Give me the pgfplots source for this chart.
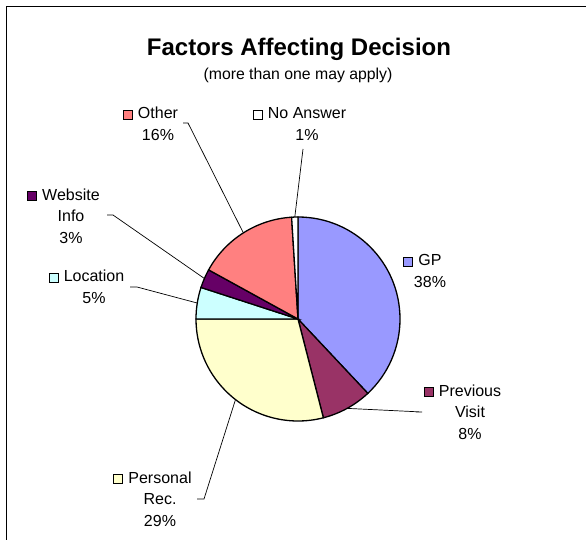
\documentclass[border=0pt]{standalone}
\usepackage{pgfplots}
\usepackage{pgfplotstable}
\pgfplotsset{compat=1.18}
\usepackage{fontspec}
\setmainfont{Liberation Sans}

\definecolor{cGP}{HTML}{9999FF}
\definecolor{cPrev}{HTML}{993366}
\definecolor{cPers}{HTML}{FFFFCC}
\definecolor{cLoc}{HTML}{CCFFFF}
\definecolor{cWeb}{HTML}{660066}
\definecolor{cOth}{HTML}{FF8080}
\definecolor{cNA}{HTML}{FFFFFF}

\setlength{\fboxsep}{0pt}
\setlength{\fboxrule}{1pt}
\newcommand\key[1]{\llap{\fcolorbox{black}{#1}{\rule{0pt}{8pt}\rule{8pt}{0pt}}\hspace{5pt}}}
\tikzset{lbl/.style={font=\fontsize{16}{21.5}\selectfont, align=center, inner sep=0pt}}

% share in percent, slice colour, leader elbow (x,y) and start of the short stub
\pgfplotstableread[col sep=comma]{
value,color,ex,ey,sx,lead
38,cGP,0,0,0,0
8,cPrev,422,412,416,1
29,cPers,204,499,197,1
5,cLoc,137,287,130,1
3,cWeb,113,215,107,1
16,cOth,188,123,183,1
1,cNA,303,149,303,1
}\piedata

\begin{document}
\begin{tikzpicture}
\begin{axis}[
  at={(0,0)}, anchor=south west,
  width=586pt, height=540pt, scale only axis,
  xmin=0, xmax=586, ymin=0, ymax=540, y dir=reverse,
  hide axis, clip=false,
]
% frame (only left and top edges fall inside the picture)
\draw[line width=1pt] (axis cs:6,540) -- (axis cs:6,7) -- (axis cs:586,7);

\node[font=\fontsize{24}{28}\selectfont\bfseries] at (axis cs:299,49) {Factors Affecting Decision};
\node[font=\fontsize{15.8}{19}\selectfont] at (axis cs:298,75) {(more than one may apply)};

\pgfplotstablegetrowsof{\piedata}
\pgfmathtruncatemacro\N{\pgfplotsretval-1}
\def\cum{0}
\pgfplotsforeachungrouped \i in {0,...,\N}{
  \pgfplotstablegetelem{\i}{value}\of\piedata \let\v\pgfplotsretval
  \pgfplotstablegetelem{\i}{color}\of\piedata \let\c\pgfplotsretval
  \pgfplotstablegetelem{\i}{ex}\of\piedata \let\ex\pgfplotsretval
  \pgfplotstablegetelem{\i}{ey}\of\piedata \let\ey\pgfplotsretval
  \pgfplotstablegetelem{\i}{sx}\of\piedata \let\sx\pgfplotsretval
  \pgfplotstablegetelem{\i}{lead}\of\piedata \let\lead\pgfplotsretval
  \pgfmathsetmacro\a{90-3.6*\cum}
  \pgfmathsetmacro\b{90-3.6*(\cum+\v)}
  \pgfmathsetmacro\m{(\a+\b)/2}
  \edef\temp{\noexpand\filldraw[fill=\c, draw=black, line width=1.3pt]
    (axis cs:298,319) -- ++(\a:102pt) arc[start angle=\a, end angle=\b, radius=102pt] -- cycle;}
  \temp
  \ifnum\lead=1
    \edef\temp{\noexpand\draw[line width=0.7pt]
      (axis cs:298,319) ++(\m:102pt) -- (axis cs:\ex,\ey) -- (axis cs:\sx,\ey);}
    \temp
  \fi
  \pgfmathsetmacro\cum{\cum+\v}
}

\node[lbl] at (axis cs:158,124) {\key{cOth}Other\\16\%};
\node[lbl] at (axis cs:307,124) {\key{cNA}No Answer\\1\%};
\node[lbl] at (axis cs:71,216) {\key{cWeb}Website\\Info\\3\%};
\node[lbl] at (axis cs:94,287) {\key{cLoc}Location\\5\%};
\node[lbl] at (axis cs:430,271) {\key{cGP}GP\\38\%};
\node[lbl] at (axis cs:470,412) {\key{cPrev}Previous\\Visit\\8\%};
\node[lbl] at (axis cs:160,499) {\key{cPers}Personal\\Rec.\\29\%};
\end{axis}
\pgfresetboundingbox
\useasboundingbox (0,0) rectangle (586pt,540pt);
\end{tikzpicture}
\end{document}
